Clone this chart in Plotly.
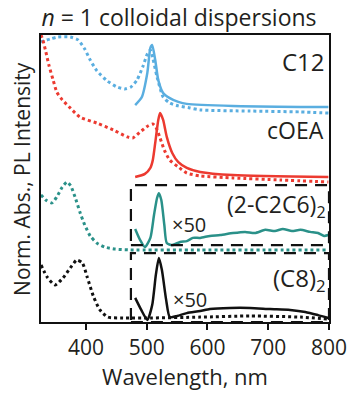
import plotly.graph_objects as go

# ---- data (wavelength nm, offset normalized intensity) ----
c12_abs_x = [326, 341, 354, 374, 387, 398, 407, 418, 435, 451, 464, 474, 484, 494, 501, 506, 510, 517, 527, 538, 552, 571, 588, 670, 753, 799]
c12_abs_y = [0.976, 0.986, 0.993, 0.993, 0.983, 0.951, 0.913, 0.875, 0.840, 0.819, 0.812, 0.819, 0.843, 0.892, 0.934, 0.948, 0.920, 0.854, 0.784, 0.763, 0.753, 0.746, 0.739, 0.735, 0.732, 0.728]
c12_pl_x = [481, 492, 501, 506, 509, 514, 519, 527, 538, 552, 566, 642, 799]
c12_pl_y = [0.756, 0.784, 0.868, 0.955, 0.965, 0.913, 0.843, 0.798, 0.780, 0.767, 0.760, 0.753, 0.749]

coea_abs_x = [326, 329, 334, 339, 346, 352, 361, 374, 390, 418, 445, 468, 477, 489, 502, 510, 515, 522, 529, 538, 552, 566, 588, 642, 720, 799]
coea_abs_y = [1.000, 0.983, 0.941, 0.895, 0.843, 0.801, 0.774, 0.746, 0.714, 0.693, 0.669, 0.645, 0.641, 0.662, 0.683, 0.690, 0.679, 0.641, 0.599, 0.564, 0.540, 0.519, 0.509, 0.502, 0.495, 0.488]
coea_pl_x = [481, 497, 506, 510, 514, 519, 522, 527, 533, 542, 552, 566, 588, 642, 799]
coea_pl_y = [0.505, 0.516, 0.537, 0.564, 0.624, 0.704, 0.728, 0.704, 0.645, 0.589, 0.557, 0.537, 0.523, 0.512, 0.505]

c2c6_abs_x = [326, 334, 344, 352, 361, 369, 375, 382, 390, 398, 407, 418, 431, 448, 473, 588, 799]
c2c6_abs_y = [0.443, 0.425, 0.415, 0.436, 0.470, 0.488, 0.474, 0.436, 0.383, 0.338, 0.300, 0.275, 0.261, 0.254, 0.251, 0.251, 0.251]
c2c6_pl_x = [481, 489, 497, 506, 512, 517, 520, 524, 529, 533, 542, 555, 566, 576, 588, 604, 621, 642, 662, 678, 695, 711, 724, 739, 753, 769, 782, 792, 799]
c2c6_pl_y = [0.324, 0.286, 0.261, 0.293, 0.373, 0.432, 0.449, 0.425, 0.338, 0.275, 0.268, 0.279, 0.282, 0.293, 0.293, 0.300, 0.303, 0.310, 0.314, 0.310, 0.321, 0.317, 0.324, 0.317, 0.321, 0.314, 0.310, 0.300, 0.303]

c8_abs_x = [326, 336, 349, 362, 374, 385, 394, 402, 412, 423, 436, 461, 506, 588, 670, 753, 799]
c8_abs_y = [0.199, 0.157, 0.129, 0.153, 0.188, 0.216, 0.206, 0.157, 0.091, 0.042, 0.017, 0.014, 0.014, 0.017, 0.021, 0.017, 0.010]
c8_pl_x = [481, 491, 501, 509, 515, 520, 525, 532, 538, 550, 566, 588, 604, 637, 670, 703, 736, 761, 782, 799]
c8_pl_y = [0.084, 0.042, 0.007, 0.059, 0.164, 0.223, 0.181, 0.077, 0.017, 0.021, 0.031, 0.038, 0.045, 0.049, 0.049, 0.045, 0.042, 0.035, 0.024, 0.014]

x_ticks = [400, 500, 600, 700, 800]

BLUE = "#5AAEE0"
RED = "#EC3A30"
TEAL = "#2A9189"
BLACK = "#111111"
TEXT = "#231F20"
FONT = "Open Sans"

fig = go.Figure()

def add(x, y, color, dotted):
    fig.add_trace(go.Scatter(
        x=x, y=y, mode="lines",
        line=dict(color=color, width=3 if dotted else 2.5,
                  dash="3px,3px" if dotted else "solid", shape="spline", smoothing=0.6),
        hoverinfo="skip", showlegend=False))

add(c12_abs_x, c12_abs_y, BLUE, True)
add(c12_pl_x, c12_pl_y, BLUE, False)
add(coea_abs_x, coea_abs_y, RED, True)
add(coea_pl_x, coea_pl_y, RED, False)
add(c2c6_abs_x, c2c6_abs_y, TEAL, True)
add(c2c6_pl_x, c2c6_pl_y, TEAL, False)
add(c8_abs_x, c8_abs_y, BLACK, True)
add(c8_pl_x, c8_pl_y, BLACK, False)

box_line = dict(color=BLACK, width=2.2, dash="12px,8px")
fig.add_shape(type="rect", xref="x", yref="y", x0=474, x1=800, y0=0.268, y1=0.477, line=box_line)
fig.add_shape(type="rect", xref="x", yref="y", x0=474, x1=800, y0=0.0, y1=0.240, line=box_line)

def label(text, x, y, size, xanchor="right"):
    fig.add_annotation(text=text, x=x, y=y, xref="x", yref="y", showarrow=False,
                       xanchor=xanchor, yanchor="middle",
                       font=dict(family=FONT, size=size, color=TEXT))

label("C12", 797, 0.906, 24)
label("cOEA", 795, 0.669, 23)
label("(2-C2C6)<sub>2</sub>", 799, 0.405, 23)
label("(C8)<sub>2</sub>", 799, 0.150, 24)
label("×50", 569, 0.338, 20, "center")
label("×50", 572, 0.077, 20, "center")

fig.add_annotation(text="Norm. Abs., PL Intensity", x=-0.068, y=0.5, xref="paper", yref="paper",
                   textangle=-90, showarrow=False, xanchor="center", yanchor="middle",
                   font=dict(family=FONT, size=21, color=TEXT))

fig.update_layout(
    width=351, height=397,
    margin=dict(l=41, r=22, t=35, b=75),
    paper_bgcolor="white", plot_bgcolor="white",
    title=dict(text="<i>n</i> = 1 colloidal dispersions", x=0.51, xanchor="center",
               y=0.955, yanchor="middle", font=dict(family=FONT, size=23, color=TEXT)),
    xaxis=dict(range=[326, 800], tickvals=x_ticks, ticks="outside", ticklen=6, tickwidth=2,
               tickcolor=BLACK, showline=True, linewidth=2, linecolor=BLACK, mirror=True,
               showgrid=False, zeroline=False, automargin=False,
               tickfont=dict(family=FONT, size=21, color=TEXT),
               title=dict(text="Wavelength, nm", standoff=2,
                          font=dict(family=FONT, size=22, color=TEXT))),
    yaxis=dict(range=[0, 1], showticklabels=False, ticks="", showline=True, linewidth=2,
               linecolor=BLACK, mirror=True, showgrid=False, zeroline=False, automargin=False),
)

fig.write_html("out.html")
